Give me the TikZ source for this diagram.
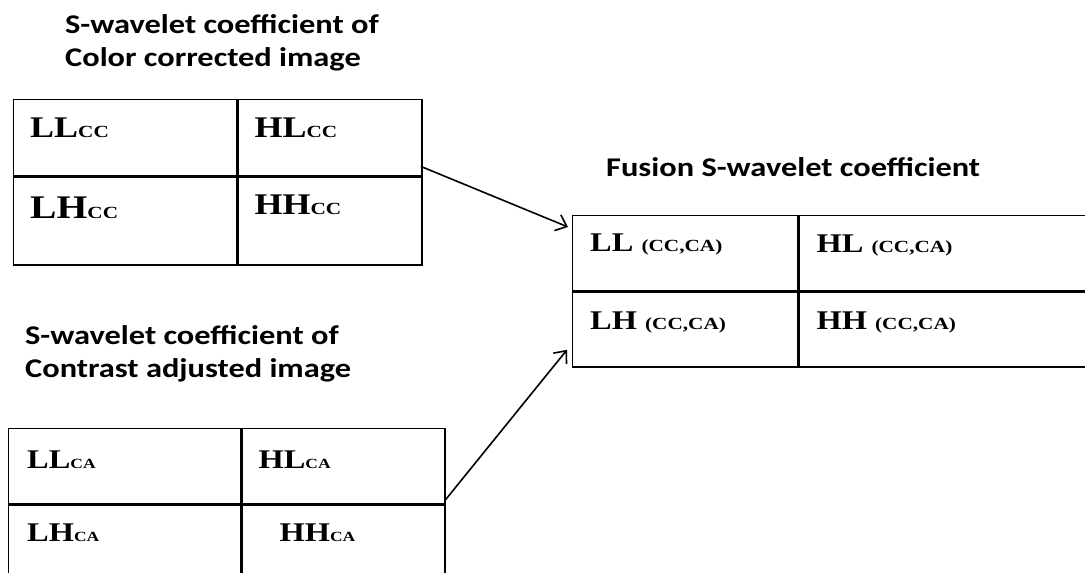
\documentclass[tikz,border=0pt]{standalone}
\usepackage{fontspec}
\setmainfont{Liberation Serif}[FakeStretch=1.2]
\newfontfamily\headfont{Carlito}[FakeStretch=1.2]
\newfontfamily\tagfont{Liberation Serif}[FakeStretch=1.25]
\usetikzlibrary{arrows.meta}

\newcommand\cctag[2]{{\tagfont\bfseries\fontsize{#1}{#1}\selectfont #2}}

\tikzset{
  cellbox/.style={draw, line width=1.4pt, inner sep=0pt, anchor=north west},
  celltext/.style={anchor=base west, inner sep=0pt, font=\bfseries\fontsize{30}{30}\selectfont},
  smalltext/.style={celltext, font=\bfseries\fontsize{27}{27}\selectfont},
  headtext/.style={anchor=base west, inner sep=0pt, align=left,
    font=\headfont\bfseries\fontsize{27}{33}\selectfont},
  flow/.style={line width=1.6pt, -{Straight Barb[length=10pt,width=17pt,line width=1.6pt]}}
}

\begin{document}
\begin{tikzpicture}[x=1pt, y=-1pt]
  \useasboundingbox (0,0) rectangle (1085,573);

  % headings
  \node[headtext] (headcc) at (65,66) {S-wavelet coefficient of\\Color corrected image};
  \node[headtext] (headca) at (25,377) {S-wavelet coefficient of\\Contrast adjusted image};
  \node[headtext] (headfu) at (606,176) {Fusion S-wavelet coefficient};

  % colour corrected
  \node[cellbox, minimum width=223pt, minimum height=76pt] (llcc) at (13,99) {};
  \node[cellbox, minimum width=184pt, minimum height=76pt] (hlcc) at (llcc.north east) {};
  \node[cellbox, minimum width=223pt, minimum height=88pt] (lhcc) at (llcc.south west) {};
  \node[cellbox, minimum width=184pt, minimum height=88pt] (hhcc) at (lhcc.north east) {};
  \node[celltext] (llcct) at ([xshift=17pt,yshift=-38pt]llcc.north west) {LL\cctag{17}{CC}};
  \node[celltext] (hlcct) at ([xshift=17pt,yshift=-38pt]hlcc.north west) {HL\cctag{17}{CC}};
  \node[celltext, font=\bfseries\fontsize{33}{33}\selectfont] (lhcct) at ([xshift=17pt,yshift=-42pt]lhcc.north west) {LH\cctag{17}{CC}};
  \node[celltext] (hhcct) at ([xshift=17pt,yshift=-38pt]hhcc.north west) {HH\cctag{17}{CC}};

  % contrast adjusted
  \node[cellbox, minimum width=232pt, minimum height=75pt] (llca) at (8,428) {};
  \node[cellbox, minimum width=203pt, minimum height=75pt] (hlca) at (llca.north east) {};
  \node[cellbox, minimum width=232pt, minimum height=90pt] (lhca) at (llca.south west) {};
  \node[cellbox, minimum width=203pt, minimum height=90pt] (hhca) at (lhca.north east) {};
  \node[smalltext] (llcat) at ([xshift=19pt,yshift=-40pt]llca.north west) {LL\cctag{14}{CA}};
  \node[smalltext] (hlcat) at ([xshift=17pt,yshift=-40pt]hlca.north west) {HL\cctag{14}{CA}};
  \node[smalltext] (lhcat) at ([xshift=19pt,yshift=-37pt]lhca.north west) {LH\cctag{14}{CA}};
  \node[smalltext] (hhcat) at ([xshift=38pt,yshift=-37pt]hhca.north west) {HH\cctag{14}{CA}};

  % fusion
  \node[cellbox, minimum width=225pt, minimum height=75pt] (fll) at (572,215) {};
  \node[cellbox, minimum width=303pt, minimum height=75pt] (fhl) at (fll.north east) {};
  \node[cellbox, minimum width=225pt, minimum height=75pt] (flh) at (fll.south west) {};
  \node[cellbox, minimum width=303pt, minimum height=75pt] (fhh) at (flh.north east) {};
  \node[smalltext] (fllt) at ([xshift=18pt,yshift=-36pt]fll.north west) {LL \cctag{17}{(CC,CA)}};
  \node[smalltext] (fhlt) at ([xshift=18pt,yshift=-37pt]fhl.north west) {HL \cctag{17}{(CC,CA)}};
  \node[smalltext] (flht) at ([xshift=18pt,yshift=-38pt]flh.north west) {LH \cctag{17}{(CC,CA)}};
  \node[smalltext] (fhht) at ([xshift=18pt,yshift=-38pt]fhh.north west) {HH \cctag{17}{(CC,CA)}};

  % arrows
  \draw[flow] ([xshift=-2pt,yshift=10pt]hlcc.south east) -- ([xshift=-4pt,yshift=-12pt]fll.north west);
  \draw[flow] ([yshift=5pt]hlca.south east) -- ([xshift=-5pt,yshift=18pt]flh.south west);
\end{tikzpicture}
\end{document}
